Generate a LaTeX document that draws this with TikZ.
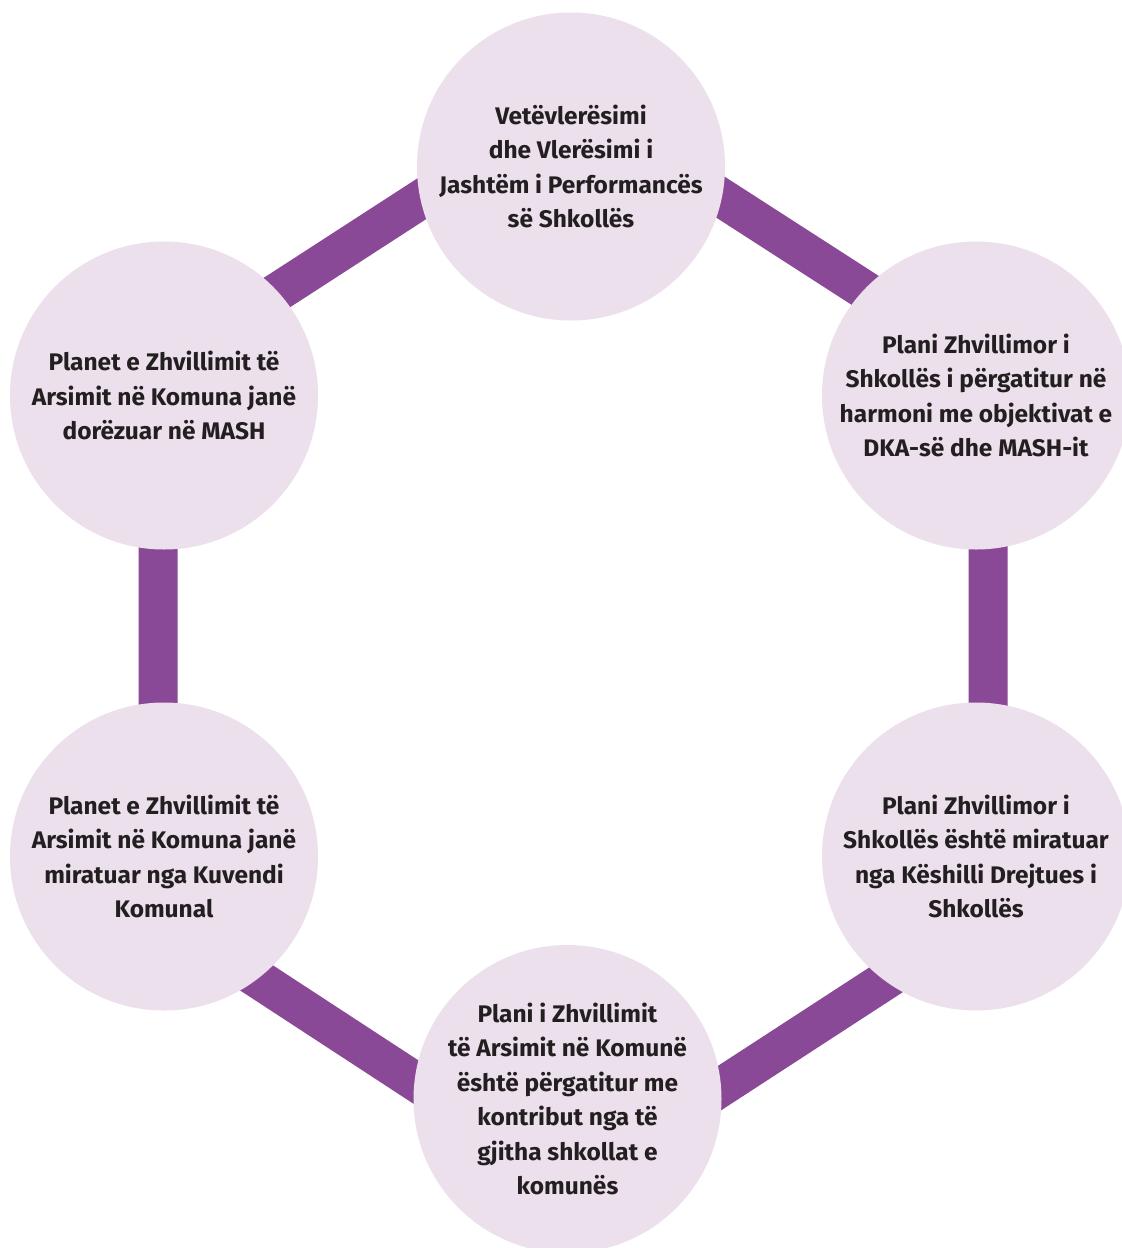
\documentclass[tikz,border=0pt]{standalone}
\usepackage{fontspec}
\setmainfont{Fira Sans}[FakeStretch=1.02]
\definecolor{barpurple}{RGB}{138,73,150}
\definecolor{circfill}{RGB}{235,224,236}
\definecolor{txtdark}{RGB}{35,31,32}
\begin{document}
\begin{tikzpicture}[x=1pt,y=-1pt,
  stagecircle/.style={circle,fill=circfill,draw=none,minimum size=308pt,inner sep=0pt,
    align=center,text=txtdark,font={\fontsize{24}{34.5}\selectfont\bfseries}},
  barline/.style={draw=barpurple,line width=39pt,line join=miter}]
\useasboundingbox (0,0) rectangle (1122,1248);
\clip (0,0) rectangle (1122,1248);
\fill[white] (0,0) rectangle (1122,1248);
% hexagon vertices of the bars
\coordinate (v1) at (572,101.5);
\coordinate (v2) at (988,369.5);
\coordinate (v3) at (988,913.5);
\coordinate (v4) at (572,1184);
\coordinate (v5) at (158,913.5);
\coordinate (v6) at (158,369.5);
\draw[barline] (v1) -- (v2) -- (v3) -- (v4) -- (v5) -- (v6) -- cycle;
% circles
\node[stagecircle] (top) at (571,166.5) {Vetëvlerësimi\\dhe Vlerësimi i\\Jashtëm i Performancës\\së Shkollës};
\node[stagecircle] (ur) at (976,395.5) {Plani Zhvillimor i\\Shkollës i përgatitur në\\harmoni me objektivat e\\DKA-së dhe MASH-it};
\node[stagecircle] (lr) at (976,856.5) {Plani Zhvillimor i\\Shkollës është miratuar\\nga Këshilli Drejtues i\\Shkollës};
\node[stagecircle] (bot) at (567.5,1099) {Plani i Zhvillimit\\të Arsimit në Komunë\\është përgatitur me\\kontribut nga të\\gjitha shkollat e\\komunës};
\node[stagecircle] (ll) at (164,856.5) {Planet e Zhvillimit të\\Arsimit në Komuna janë\\miratuar nga Kuvendi\\Komunal};
\node[stagecircle] (ul) at (164,395.5) {Planet e Zhvillimit të\\Arsimit në Komuna janë\\dorëzuar në MASH};
\end{tikzpicture}
\end{document}
